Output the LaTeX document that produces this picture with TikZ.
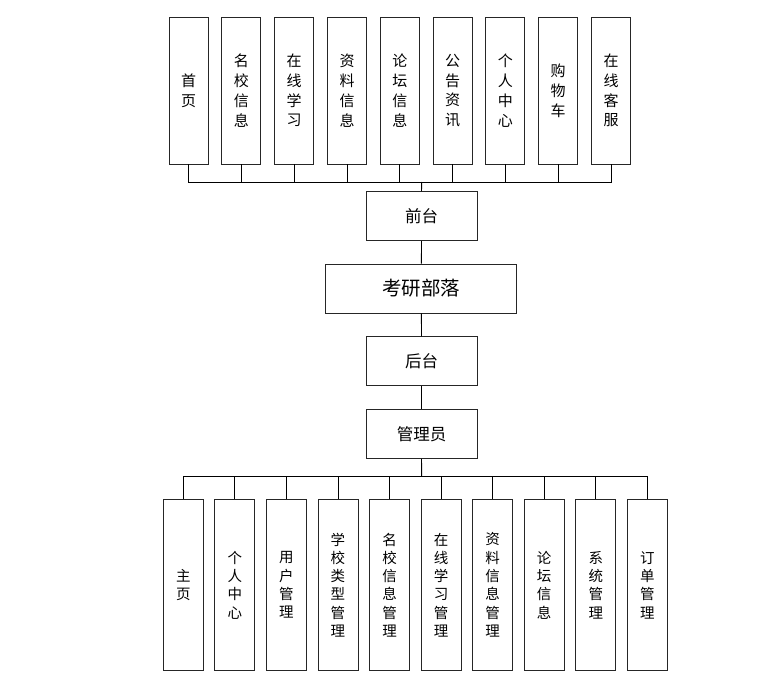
\documentclass[tikz,border=0pt]{standalone}
\usepackage{fontspec}
\newfontfamily\cjk{Noto Sans CJK SC}
\begin{document}
\begin{tikzpicture}[x=1pt,y=-1pt,
  box/.style={draw=black!85,line width=0.9pt,fill=white,inner sep=0pt,align=center,font=\cjk},
  topcol/.style={box,minimum width=39pt,minimum height=147pt,font=\cjk\fontsize{15}{19.8}\selectfont},
  botcol/.style={box,minimum width=40pt,minimum height=171pt,font=\cjk\fontsize{14.5}{18.3}\selectfont},
  mid/.style={box,minimum width=111pt,minimum height=49pt,font=\cjk\fontsize{16.5}{20}\selectfont},
  conn/.style={draw=black,line width=0.9pt}]
\useasboundingbox (0,0) rectangle (782,680);
% top columns
\foreach \t [count=\i] in {首\\页,名\\校\\信\\息,在\\线\\学\\习,资\\料\\信\\息,论\\坛\\信\\息,公\\告\\资\\讯,个\\人\\中\\心,购\\物\\车,在\\线\\客\\服}{
  \node[topcol] (t\i) at ({188.6+(\i-1)*52.8},90.5) {\t};
}
\coordinate (tb) at (421.7,182);
\node[mid] (front) at (421.5,216.2) {前台};
\node[mid,minimum width=191pt,font=\cjk\fontsize{19.5}{22}\selectfont] (main) at (421.4,288.5) {考研部落};
\node[mid] (back) at (421.5,361.2) {后台};
\node[mid] (admin) at (421.5,433.8) {管理员};
\coordinate (bb) at (421.7,476.7);
\foreach \t [count=\i] in {主\\页,个\\人\\中\\心,用\\户\\管\\理,学\\校\\类\\型\\管\\理,名\\校\\信\\息\\管\\理,在\\线\\学\\习\\管\\理,资\\料\\信\\息\\管\\理,论\\坛\\信\\息,系\\统\\管\\理,订\\单\\管\\理}{
  \node[botcol] (b\i) at ({183.3+(\i-1)*51.56},585) {\t};
}
\foreach \i in {1,...,9}{ \draw[conn] (t\i.south) |- (tb); }
\draw[conn] (tb) -- (front.north);
\draw[conn] (front.south) -- (main.north);
\draw[conn] (main.south) -- (back.north);
\draw[conn] (back.south) -- (admin.north);
\draw[conn] (admin.south) -- (bb);
\foreach \i in {1,...,10}{ \draw[conn] (bb) -| (b\i.north); }
\end{tikzpicture}
\end{document}
